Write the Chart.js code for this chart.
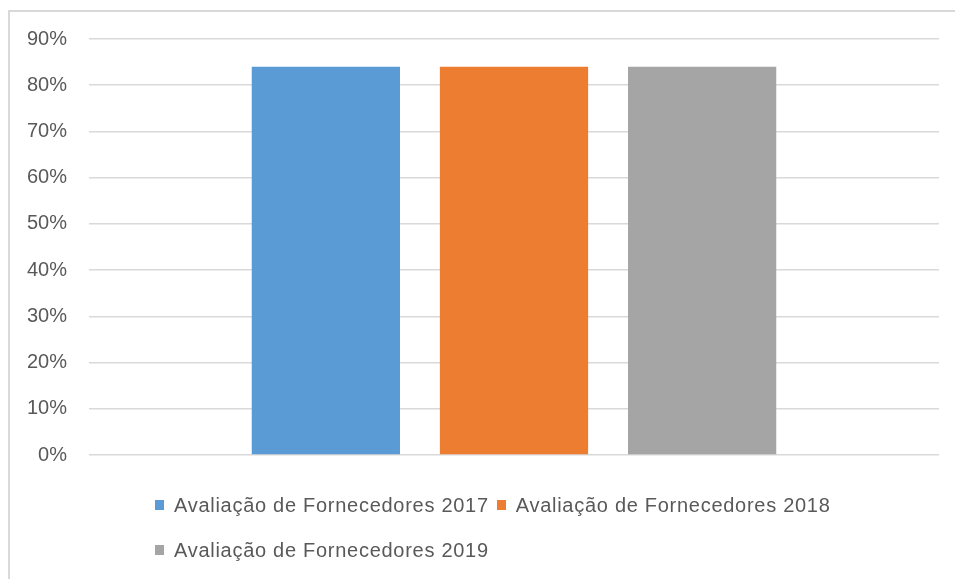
<!DOCTYPE html>
<html>
<head>
<meta charset="utf-8">
<script src="https://cdn.jsdelivr.net/npm/chart.js@4"></script>
<style>
  html, body { margin: 0; padding: 0; background: #fff; overflow: hidden; }
  #wrap { position: relative; width: 955px; height: 579px; overflow: hidden; }
  #frame { position: absolute; left: 8px; top: 10px; width: 1000px; height: 700px; border: 2px solid #d9d9d9; box-sizing: border-box; }
  canvas { position: absolute; left: 0; top: 0; }
  #legend { position: absolute; left: 155px; top: 490px; width: 700px; display: flex; flex-wrap: wrap; row-gap: 15px;
            font-family: "Liberation Sans", Arial, sans-serif; font-size: 20px; letter-spacing: 0.72px; color: #595959; }
  .item { display: flex; align-items: center; margin-right: 8px; height: 30px; white-space: nowrap; }
  .box { width: 9px; height: 10px; margin-right: 10px; }
</style>
</head>
<body>
<div id="wrap">
  <div id="frame"></div>
  <canvas id="c" width="955" height="579"></canvas>
  <div id="legend"></div>
</div>
<script>
const categories = [""];
const seriesNames = ["Avaliação de Fornecedores 2017", "Avaliação de Fornecedores 2018", "Avaliação de Fornecedores 2019"];
const values2017 = [84];
const values2018 = [84];
const values2019 = [84];
const seriesColors = ["#5B9BD5", "#ED7D31", "#A5A5A5"];
const yTicks = [0, 10, 20, 30, 40, 50, 60, 70, 80, 90];

const seriesValues = [values2017, values2018, values2019];
const datasets = seriesNames.map((name, i) => ({
  label: name,
  data: seriesValues[i],
  backgroundColor: seriesColors[i],
  borderWidth: 0,
  categoryPercentage: 0.664,
  barPercentage: 0.788
}));

new Chart(document.getElementById('c'), {
  type: 'bar',
  data: { labels: categories, datasets },
  options: {
    responsive: false,
    animation: false,
    layout: { padding: { left: 0, right: 16, top: 39, bottom: 124 } },
    plugins: { legend: { display: false }, tooltip: { enabled: false } },
    scales: {
      x: { display: false },
      y: {
        min: 0, max: 90,
        afterFit: (s) => { s.width = 89; },
        afterBuildTicks: (s) => { s.ticks = yTicks.map(v => ({ value: v })); },
        border: { display: false },
        grid: { color: '#d9d9d9', lineWidth: 1.5, drawTicks: false },
        ticks: {
          padding: 22,
          color: '#595959',
          font: { family: '"Liberation Sans", Arial, sans-serif', size: 20 },
          callback: (v) => v + '%'
        }
      }
    }
  }
});

const legend = document.getElementById('legend');
seriesNames.forEach((name, i) => {
  const it = document.createElement('div');
  it.className = 'item';
  const b = document.createElement('span');
  b.className = 'box';
  b.style.background = seriesColors[i];
  const t = document.createElement('span');
  t.textContent = name;
  it.appendChild(b); it.appendChild(t);
  legend.appendChild(it);
});
</script>
</body>
</html>
